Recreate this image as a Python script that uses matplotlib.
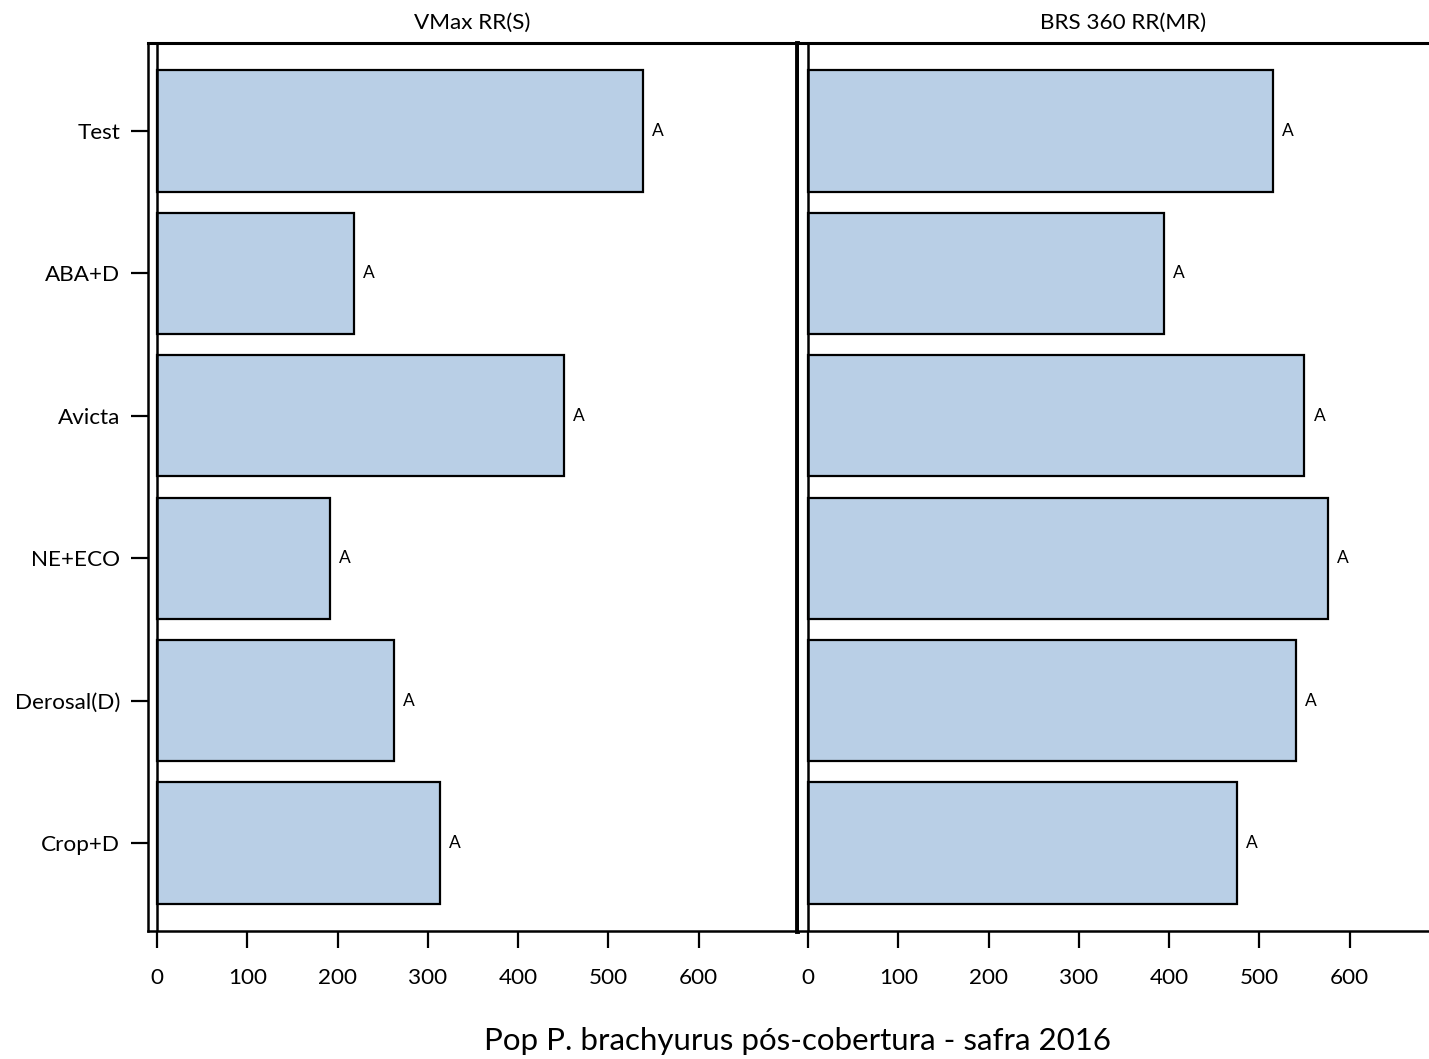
import matplotlib
matplotlib.use("Agg")
import matplotlib.pyplot as plt

plt.rcParams['font.family'] = ['Lato', 'DejaVu Sans']

categories = ["Test", "ABA+D", "Avicta", "NE+ECO", "Derosal(D)", "Crop+D"]
vmax_values = [538, 218, 451, 192, 263, 313]
brs_values = [515, 394, 550, 576, 541, 475]
letters_vmax = ["A", "A", "A", "A", "A", "A"]
letters_brs = ["A", "A", "A", "A", "A", "A"]
panel_titles = ["VMax RR(S)", "BRS 360 RR(MR)"]
xticks = [0, 100, 200, 300, 400, 500, 600]
xlabel = "Pop P. brachyurus pós-cobertura - safra 2016"

W, H = 1429, 1059
fig = plt.figure(figsize=(W / 100, H / 100), dpi=100)

def fx(px):
    return px / W

def fy(py):
    return 1 - py / H

top, bottom = 43, 931
pw = 649
ax1 = fig.add_axes([fx(148), fy(bottom), fx(pw), fy(top) - fy(bottom)])
ax2 = fig.add_axes([fx(799), fy(bottom), fx(pw), fy(top) - fy(bottom)])

bar_color = "#B9CFE6"
ypos = list(range(len(categories)))
fs = 16.2

for ax, vals, letters, title in [(ax1, vmax_values, letters_vmax, panel_titles[0]),
                                  (ax2, brs_values, letters_brs, panel_titles[1])]:
    ax.barh(ypos, vals, height=0.85, color=bar_color, edgecolor="black", linewidth=1.6, zorder=2)
    ax.axvline(0, color="black", linewidth=1.8, zorder=3)
    for y, v, l in zip(ypos, vals, letters):
        ax.text(v + 10, y, l, ha="left", va="center", fontsize=12.5, color="black")
    ax.set_xlim(-10, 709)
    ax.set_ylim(len(categories) - 1 + 0.618, -0.618)
    ax.set_xticks(xticks)
    ax.set_xticklabels([str(t) for t in xticks], fontsize=fs)
    ax.tick_params(axis="x", direction="out", length=12, width=1.6, pad=15)
    for s in ax.spines.values():
        s.set_linewidth(1.8)
    ax.spines["top"].set_linewidth(2.2)
    ax.set_title(title, fontsize=fs, pad=10)

ax1.set_yticks(ypos)
ax1.set_yticklabels(categories, fontsize=fs)
ax1.tick_params(axis="y", direction="out", length=12, width=1.6, pad=8)
ax1.spines["right"].set_linewidth(3.5)
ax1.spines["right"].set_zorder(5)

ax2.set_yticks([])
ax2.spines["left"].set_visible(False)
ax2.spines["right"].set_visible(False)

fig.text(fx(798), fy(1041), xlabel, ha="center", va="center", fontsize=22.5)

fig.savefig("out.png", dpi=100)
